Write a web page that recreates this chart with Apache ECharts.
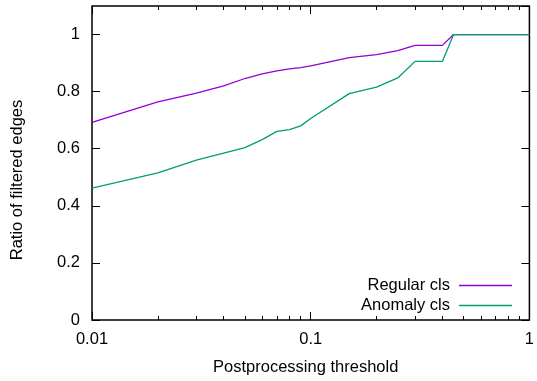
<!DOCTYPE html>
<html>
<head>
<meta charset="utf-8">
<script src="https://cdn.jsdelivr.net/npm/echarts@6/dist/echarts.min.js"></script>
<style>
    html, body { margin: 0; padding: 0; background: #fff; }
    #chart { width: 537px; height: 381px; }
</style>
</head>
<body>
<div id="chart"></div>
<script>
const thresholds = [0.01, 0.02, 0.03, 0.04, 0.05, 0.06, 0.07, 0.08, 0.09, 0.1,
    0.15, 0.2, 0.25, 0.3, 0.35, 0.4, 0.45, 0.5, 0.6, 0.7, 0.8, 0.9, 1];
const regularCls = [0.692, 0.764, 0.795, 0.82, 0.846, 0.862, 0.873, 0.880, 0.884, 0.890,
    0.919, 0.930, 0.944, 0.962, 0.962, 0.962, 1, 1, 1, 1, 1, 1, 1];
const anomalyCls = [0.462, 0.515, 0.560, 0.585, 0.604, 0.632, 0.661, 0.667, 0.680, 0.706,
    0.793, 0.816, 0.848, 0.906, 0.906, 0.906, 1, 1, 1, 1, 1, 1, 1];
const minorTicks = [0.02, 0.03, 0.04, 0.05, 0.06, 0.07, 0.08, 0.09,
    0.2, 0.3, 0.4, 0.5, 0.6, 0.7, 0.8, 0.9];

const font = 'Liberation Sans, Arial, sans-serif';
const fs = 16.5;
const dom = document.getElementById('chart');
const myChart = echarts.init(dom);

const baseX = {
    type: 'log',
    logBase: 10,
    min: 0.01,
    max: 1,
    gridIndex: 0,
    offset: 0,
    splitLine: { show: false },
    axisLine: { show: false },
    axisLabel: { show: false },
};

const option = {
    animation: false,
    backgroundColor: '#fff',
    grid: {
        left: 92,
        right: 4,
        top: 6,
        bottom: 60,
        show: true,
        borderColor: '#000',
        borderWidth: 1.5,
        containLabel: false
    },
    legend: {
        orient: 'vertical',
        align: 'right',
        right: 20,
        top: 272,
        icon: 'rect',
        itemWidth: 53,
        itemHeight: 1.5,
        itemGap: 3,
        textStyle: {
            fontFamily: font,
            fontSize: fs,
            color: '#000',
            padding: [0, 4, 0, 0]
        },
        data: ['Regular cls', 'Anomaly cls']
    },
    xAxis: [
        {
            ...baseX,
            position: 'bottom',
            name: 'Postprocessing threshold',
            nameLocation: 'middle',
            nameGap: 39,
            nameTextStyle: { fontFamily: font, fontSize: fs, color: '#000', padding: [0, 10, 0, 0] },
            axisTick: { inside: true, length: 8, lineStyle: { color: '#000', width: 1 } },
            axisLabel: {
                show: true,
                fontFamily: font,
                fontSize: fs,
                color: '#000',
                margin: 11,
                formatter: (v) => String(v)
            }
        },
        {
            ...baseX,
            position: 'bottom',
            axisTick: { inside: true, length: 4, customValues: minorTicks, lineStyle: { color: '#000', width: 1 } }
        },
        {
            ...baseX,
            position: 'top',
            axisTick: { inside: true, length: 8, lineStyle: { color: '#000', width: 1 } }
        },
        {
            ...baseX,
            position: 'top',
            axisTick: { inside: true, length: 4, customValues: minorTicks, lineStyle: { color: '#000', width: 1 } }
        }
    ],
    yAxis: [
        {
            type: 'value',
            min: 0,
            max: 1.1,
            interval: 0.2,
            position: 'left',
            name: 'Ratio of filtered edges',
            nameLocation: 'middle',
            nameGap: 66,
            nameTextStyle: { fontFamily: font, fontSize: fs, color: '#000', padding: [0, 34, 0, 0] },
            splitLine: { show: false },
            axisLine: { show: false },
            axisTick: { inside: true, length: 8, lineStyle: { color: '#000', width: 1 } },
            axisLabel: {
                fontFamily: font,
                fontSize: fs,
                color: '#000',
                margin: 12,
                showMaxLabel: false,
                formatter: (v) => (v > 1.05 ? '' : String(Math.round(v * 10) / 10))
            }
        },
        {
            type: 'value',
            min: 0,
            max: 1.1,
            interval: 0.2,
            position: 'right',
            offset: 0,
            splitLine: { show: false },
            axisLine: { show: false },
            axisLabel: { show: false },
            axisTick: { inside: true, length: 8, lineStyle: { color: '#000', width: 1 } }
        }
    ],
    series: [
        {
            name: 'Regular cls',
            type: 'line',
            xAxisIndex: 0,
            yAxisIndex: 0,
            symbol: 'none',
            color: '#9400d3',
            lineStyle: { width: 1.3 },
            data: thresholds.map((t, i) => [t, regularCls[i]])
        },
        {
            name: 'Anomaly cls',
            type: 'line',
            xAxisIndex: 0,
            yAxisIndex: 0,
            symbol: 'none',
            color: '#009e73',
            lineStyle: { width: 1.3 },
            data: thresholds.map((t, i) => [t, anomalyCls[i]])
        }
    ]
};
myChart.setOption(option);
</script>
</body>
</html>
